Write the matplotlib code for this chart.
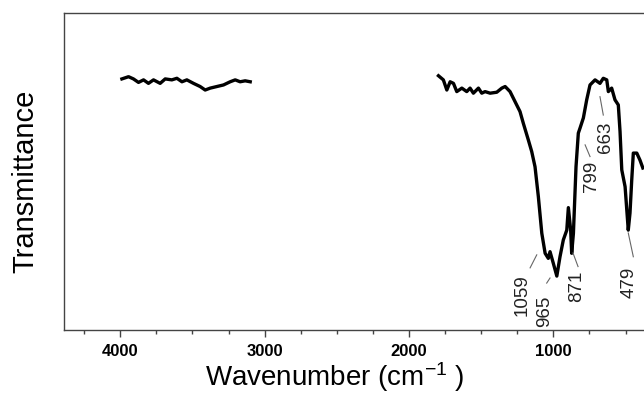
import matplotlib
matplotlib.use("Agg")
import matplotlib.pyplot as plt
from matplotlib.ticker import MultipleLocator, NullLocator

plt.rcParams['font.family'] = ['Liberation Sans', 'DejaVu Sans']
plt.rcParams['mathtext.default'] = 'regular'

# Segment 1 (high wavenumber region)
wn_high = [3989, 3943, 3909, 3874, 3839, 3805, 3770, 3724, 3689, 3643, 3608,
           3573, 3539, 3493, 3447, 3412, 3377, 3331, 3285, 3239, 3204, 3170,
           3135, 3100]
t_high = [79.2, 79.9, 79.2, 78.1, 78.9, 77.8, 78.9, 77.8, 79.2, 78.9, 79.4,
          78.3, 78.9, 77.8, 76.8, 75.7, 76.3, 76.8, 77.3, 78.3, 78.9, 78.3,
          78.6, 78.3]

# Segment 2 (fingerprint region)
wn_low = [1796, 1762, 1738, 1715, 1692, 1669, 1634, 1600, 1577, 1554, 1519,
          1496, 1473, 1438, 1392, 1357, 1334, 1300, 1265, 1231, 1208, 1173,
          1150, 1127, 1104, 1080, 1057, 1035, 1023, 1000, 976, 954, 931, 907,
          896, 880, 873, 861, 843, 827, 815, 792, 769, 746, 711, 677, 654,
          630, 619, 596, 573, 550, 538, 526, 503, 481, 469, 457, 446, 422,
          400, 380]
t_low = [80.2, 78.9, 75.7, 78.3, 77.8, 75.2, 76.3, 75.2, 76.3, 74.7, 76.3,
         74.7, 75.2, 74.7, 75.0, 76.3, 76.8, 75.2, 72.0, 68.9, 65.2, 59.9,
         56.3, 51.5, 42.1, 30.5, 24.2, 22.6, 24.7, 21.0, 17.0, 23.1, 28.4,
         31.5, 38.6, 31.5, 24.2, 30.5, 51.5, 62.1, 63.7, 66.9, 72.6, 77.3,
         78.9, 77.8, 79.4, 78.9, 75.2, 76.3, 72.6, 71.0, 62.6, 50.5, 45.2,
         31.5, 36.9, 47.3, 55.8, 55.8, 53.6, 51.1]

# Peak annotations: label, text position (wn, T), leader start, leader end
peak_labels = ["1059", "965", "871", "799", "663", "479"]
label_wn = [1219, 1062, 838, 734, 642, 472]
label_t = [11.0, 6.0, 13.7, 48.4, 60.7, 15.1]
leader_wn0 = [1161, 1046, 829, 746, 654, 481]
leader_t0 = [19.6, 14.8, 20.0, 54.7, 67.8, 30.6]
leader_wn1 = [1115, 1023, 864, 780, 677, 446]
leader_t1 = [23.7, 16.4, 24.3, 58.4, 73.6, 23.1]

xticks = [4000, 3000, 2000, 1000]

fig = plt.figure(figsize=(6.44, 3.97), dpi=100)
ax = fig.add_axes([0.0994, 0.1688, 0.9006, 0.7985])

ax.plot(wn_high, t_high, color='black', lw=2.4, solid_joinstyle='round')
ax.plot(wn_low, t_low, color='black', lw=2.4, solid_joinstyle='round')

for lab, x, y, x0, y0, x1, y1 in zip(peak_labels, label_wn, label_t,
                                     leader_wn0, leader_t0, leader_wn1, leader_t1):
    ax.text(x, y, lab, rotation=90, ha='center', va='center', fontsize=13.5,
            color='#222222')
    ax.plot([x0, x1], [y0, y1], color='#666666', lw=0.8)

ax.set_xlim(4390, 372)
ax.set_ylim(0, 100)
ax.set_xticks(xticks)
ax.set_xticklabels([str(v) for v in xticks], fontweight='bold', fontsize=12)
ax.xaxis.set_minor_locator(MultipleLocator(250))
ax.yaxis.set_major_locator(NullLocator())
ax.tick_params(axis='x', which='major', direction='out', length=5, width=1,
               color='#444444', pad=5)
ax.tick_params(axis='x', which='minor', direction='out', length=3, width=1,
               color='#444444')

for s in ['left', 'top', 'bottom']:
    ax.spines[s].set_color('#444444')
    ax.spines[s].set_linewidth(1.0)
ax.spines['right'].set_visible(False)

ax.set_ylabel('Transmittance', fontsize=21)
ax.set_xlabel(r'Wavenumber (cm$^{-1}$ )', fontsize=20)
ax.yaxis.set_label_coords(-0.043, 0.47)
ax.xaxis.set_label_coords(0.467, -0.095)

fig.savefig('out.png', dpi=100)
